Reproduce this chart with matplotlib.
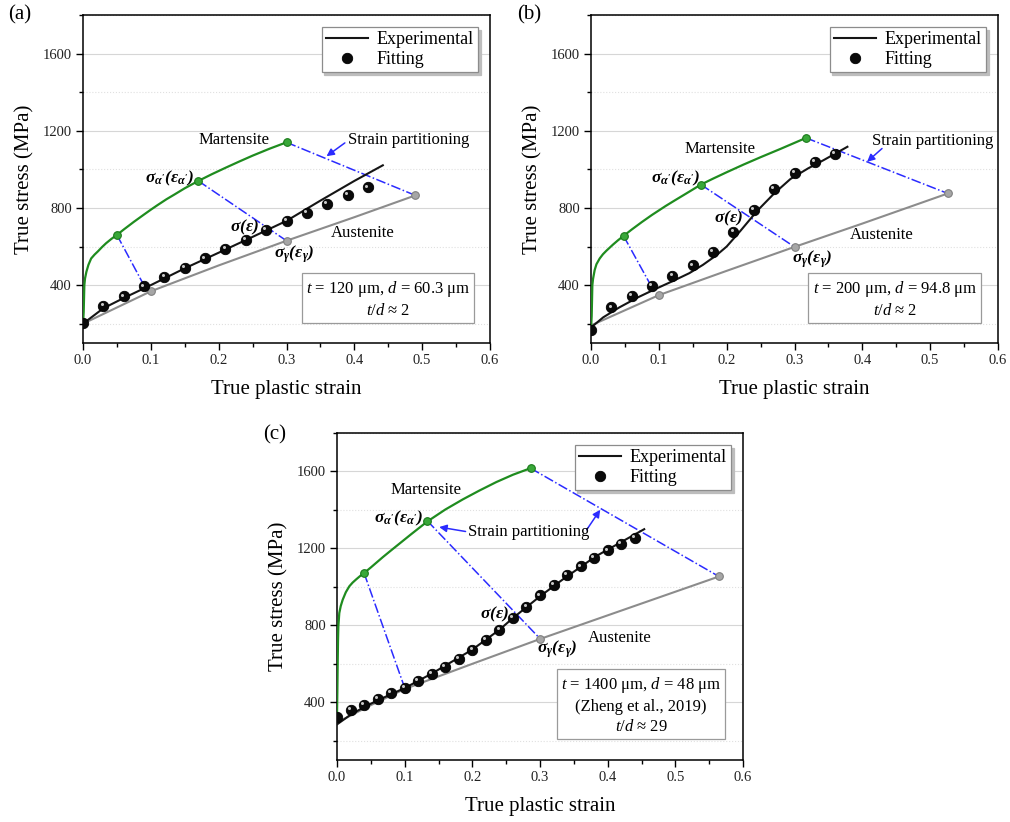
import matplotlib

matplotlib.use("Agg")
import matplotlib.pyplot as plt
from matplotlib.ticker import MultipleLocator
from matplotlib.transforms import offset_copy

# ---- panel (a): t = 120 um, d = 60.3 um
A_MART_EPS = [0, 0.001, 0.0015, 0.002, 0.003, 0.005, 0.008, 0.012, 0.017, 0.022, 0.028, 0.034, 0.042, 0.05,
              0.06, 0.075, 0.09, 0.1, 0.11, 0.123, 0.135, 0.15, 0.17, 0.19, 0.21, 0.23, 0.25, 0.275, 0.3]
A_MART_SIG = [200, 260, 330, 400, 435, 469, 505, 538, 558, 575, 597, 617, 640, 660,
              688, 728, 766, 791, 815, 845, 870, 902, 940, 975, 1008, 1040, 1071, 1107, 1140]
A_MART_PTS = ([0.05, 0.17, 0.30], [660, 940, 1140])
A_AUST_EPS = [0, 0.1, 0.2, 0.3, 0.4, 0.49]
A_AUST_SIG = [200, 368, 502, 630, 752, 865]
A_AUST_PTS = ([0.1, 0.3, 0.49], [368, 630, 865])
A_EXP_EPS = [0, 0.03, 0.06, 0.1, 0.15, 0.2, 0.25, 0.3, 0.35, 0.4, 0.442]
A_EXP_SIG = [200, 280, 333, 400, 487, 568, 650, 733, 838, 940, 1021]
A_FIT_EPS = [0, 0.03, 0.06, 0.09, 0.12, 0.15, 0.18, 0.21, 0.24, 0.27, 0.30, 0.33, 0.36, 0.39, 0.42]
A_FIT_SIG = [205, 291, 342, 393, 443, 490, 538, 588, 636, 685, 731, 776, 823, 866, 906]
A_LINKS = [((0.05, 0.09), (660, 398)), ((0.17, 0.30), (940, 630)), ((0.30, 0.49), (1140, 865))]

# ---- panel (b): t = 200 um, d = 94.8 um
B_MART_EPS = [0, 0.001, 0.0015, 0.002, 0.003, 0.0054, 0.008, 0.0128, 0.0176, 0.0226, 0.0324, 0.04, 0.048,
              0.06, 0.075, 0.09, 0.1, 0.11, 0.123, 0.14, 0.162, 0.18, 0.2, 0.225, 0.25, 0.28, 0.317]
B_MART_SIG = [170, 240, 320, 400, 432, 478, 508, 538, 560, 578, 610, 633, 655,
              688, 727, 764, 787, 810, 838, 874, 921, 952, 985, 1025, 1063, 1107, 1163]
B_MART_PTS = ([0.048, 0.162, 0.317], [655, 921, 1163])
B_AUST_EPS = [0, 0.1, 0.2, 0.3, 0.4, 0.526]
B_AUST_SIG = [191, 348, 474, 598, 719, 875]
B_AUST_PTS = ([0.1, 0.3, 0.526], [348, 598, 875])
B_EXP_EPS = [0, 0.018, 0.042, 0.07, 0.095, 0.12, 0.145, 0.165, 0.185, 0.2, 0.22, 0.245, 0.27, 0.294, 0.32,
             0.343, 0.378]
B_EXP_SIG = [180, 233, 285, 338, 380, 420, 462, 505, 555, 600, 680, 785, 875, 950, 1005, 1048, 1117]
B_FIT_EPS = [0, 0.03, 0.06, 0.09, 0.12, 0.15, 0.18, 0.21, 0.24, 0.27, 0.30, 0.33, 0.36]
B_FIT_SIG = [167, 284, 343, 395, 447, 502, 574, 674, 790, 899, 980, 1037, 1082]
B_LINKS = [((0.048, 0.088), (655, 400)), ((0.162, 0.30), (921, 598)), ((0.317, 0.526), (1163, 875))]

# ---- panel (c): t = 1400 um, d = 48 um (Zheng et al., 2019)
C_MART_EPS = [0, 0.0005, 0.001, 0.0015, 0.002, 0.0034, 0.0055, 0.0084, 0.013, 0.0182, 0.023, 0.028, 0.034,
              0.04, 0.05, 0.0675, 0.08, 0.092, 0.11, 0.1335, 0.16, 0.186, 0.21, 0.2355, 0.26, 0.286]
C_MART_SIG = [330, 450, 600, 720, 795, 864, 900, 933, 972, 1003, 1022, 1038, 1056,
              1072, 1101, 1154, 1190, 1224, 1275, 1340, 1402, 1455, 1500, 1545, 1583, 1617]
C_MART_PTS = ([0.04, 0.1335, 0.286], [1072, 1343, 1617])
C_AUST_EPS = [0, 0.05, 0.1, 0.2, 0.3, 0.4, 0.5645]
C_AUST_SIG = [295, 385, 469, 600, 729, 852, 1054]
C_AUST_PTS = ([0.1, 0.3005, 0.5645], [469, 729, 1054])
C_EXP_EPS = [0, 0.02, 0.04, 0.06, 0.1, 0.14, 0.2, 0.24, 0.26, 0.3, 0.333, 0.382, 0.454]
C_EXP_SIG = [285, 335, 375, 410, 474, 549, 674, 777, 838, 951, 1037, 1158, 1300]
C_FIT_EPS = [0, 0.02, 0.04, 0.06, 0.08, 0.10, 0.12, 0.14, 0.16, 0.18, 0.20, 0.22, 0.24, 0.26,
             0.28, 0.30, 0.32, 0.34, 0.36, 0.38, 0.40, 0.42, 0.44]
C_FIT_SIG = [322, 360, 388, 417, 448, 474, 513, 547, 585, 625, 674, 724, 777, 838,
             897, 956, 1009, 1061, 1106, 1151, 1190, 1224, 1253]
C_LINKS = [((0.04, 0.099), (1072, 485)), ((0.1335, 0.3005), (1343, 729)), ((0.286, 0.5645), (1617, 1054))]

INFO = (
    "$t$ = 120 μm, $d$ = 60.3 μm\n$t/d$ ≈ 2",
    "$t$ = 200 μm, $d$ = 94.8 μm\n$t/d$ ≈ 2",
    "$t$ = 1400 μm, $d$ = 48 μm\n(Zheng et al., 2019)\n$t/d$ ≈ 29",
)

GREEN = "#1f8c1f"
GRAY = "#8c8c8c"
BLUE = "#2b2bff"
INK = "#151515"

SIG_A = r"$\mathbf{\sigma_{\alpha'}(\varepsilon_{\alpha'})}$"
SIG_G = r"$\mathbf{\sigma_{\gamma}(\varepsilon_{\gamma})}$"
SIG = r"$\mathbf{\sigma(\varepsilon)}$"

plt.rcParams.update(
    {
        "font.family": ["Liberation Serif", "DejaVu Serif"],
        "mathtext.fontset": "custom",
        "mathtext.rm": "Liberation Serif",
        "mathtext.it": "Liberation Serif:italic",
        "mathtext.bf": "Liberation Serif:bold:italic",
        "axes.linewidth": 1.1,
    }
)


def style_axis(ax):
    ax.set_xlim(0, 0.6)
    ax.set_ylim(100, 1800)
    ax.xaxis.set_major_locator(MultipleLocator(0.1))
    ax.xaxis.set_minor_locator(MultipleLocator(0.05))
    ax.set_yticks([400, 800, 1200, 1600])
    ax.yaxis.set_minor_locator(MultipleLocator(200))
    ax.xaxis.set_major_formatter(plt.FuncFormatter(lambda v, _: f"{v:.1f}"))
    ax.grid(axis="y", which="major", color="#d6d6d6", linewidth=0.8)
    ax.grid(axis="y", which="minor", color="#e0e0e0", linewidth=0.8, linestyle=":")
    ax.set_axisbelow(True)
    ax.tick_params(which="major", direction="out", length=5, width=1, labelsize=10.5, pad=3,
                   labelcolor="#222222")
    ax.tick_params(which="minor", direction="out", length=3, width=1)
    ax.set_xlabel("True plastic strain", fontsize=15, labelpad=9)
    ax.set_ylabel("True stress (MPa)", fontsize=15, labelpad=6)


def draw_panel(fig, ax, mart, mart_pts, aust, aust_pts, exp, fit, links):
    ax.plot(*aust, color=GRAY, lw=1.5, zorder=3)
    ax.plot(*mart, color=GREEN, lw=1.6, zorder=3)
    ax.plot(*exp, color=INK, lw=1.5, zorder=4, label="Experimental")
    for xs, ys in links:
        ax.plot(xs, ys, color=BLUE, lw=1.1, ls="-.", zorder=3)
    ax.plot(*mart_pts, ls="none", marker="o", ms=5.5, mfc="#39a839", mec="#1a7a1a", mew=0.8, zorder=5)
    ax.plot(*aust_pts, ls="none", marker="o", ms=5.5, mfc="#a6a6a6", mec="#808080", mew=0.8, zorder=5)
    ax.plot(*fit, ls="none", marker="o", ms=7.5, mfc="#0a0a0a", mec="#000000", mew=0.6, zorder=6, label="Fitting")
    shine = offset_copy(ax.transData, fig=fig, x=-1.3, y=1.3, units="points")
    ax.plot(*fit, ls="none", marker="o", ms=2.2, mfc="#c8c8c8", mec="none", transform=shine, zorder=7)
    leg = ax.legend(
        loc="upper right",
        fontsize=13,
        handlelength=2.3,
        handletextpad=0.5,
        borderpad=0.25,
        labelspacing=0.15,
        borderaxespad=0.65,
        fancybox=False,
        edgecolor="#8c8c8c",
        shadow={"color": "#bdbdbd", "alpha": 1.0},
        framealpha=1,
    )
    leg.get_frame().set_linewidth(0.9)
    style_axis(ax)


def arrow(ax, head, tail):
    ax.annotate(
        "",
        xy=head,
        xytext=tail,
        arrowprops=dict(arrowstyle="-|>", color=BLUE, lw=1.1, mutation_scale=11, shrinkA=0, shrinkB=0),
        zorder=6,
    )


fig = plt.figure(figsize=(10.1, 8.22), dpi=100, facecolor="white")
W, H = 1010, 822
ax_a = fig.add_axes([83 / W, 1 - 343 / H, 407 / W, 328 / H])
ax_b = fig.add_axes([591 / W, 1 - 343 / H, 407 / W, 328 / H])
ax_c = fig.add_axes([337 / W, 1 - 760 / H, 406 / W, 327 / H])

draw_panel(fig, ax_a, (A_MART_EPS, A_MART_SIG), A_MART_PTS, (A_AUST_EPS, A_AUST_SIG), A_AUST_PTS,
           (A_EXP_EPS, A_EXP_SIG), (A_FIT_EPS, A_FIT_SIG), A_LINKS)
draw_panel(fig, ax_b, (B_MART_EPS, B_MART_SIG), B_MART_PTS, (B_AUST_EPS, B_AUST_SIG), B_AUST_PTS,
           (B_EXP_EPS, B_EXP_SIG), (B_FIT_EPS, B_FIT_SIG), B_LINKS)
draw_panel(fig, ax_c, (C_MART_EPS, C_MART_SIG), C_MART_PTS, (C_AUST_EPS, C_AUST_SIG), C_AUST_PTS,
           (C_EXP_EPS, C_EXP_SIG), (C_FIT_EPS, C_FIT_SIG), C_LINKS)

# text labels, positions in data units
labels = {
    ax_a: dict(mart=(0.171, 1154), aust=(0.365, 671), sig=(0.216, 697), siga=(0.092, 952),
               sigg=(0.282, 559), part=(0.391, 1151), info=(0.4495, 327)),
    ax_b: dict(mart=(0.1376, 1108), aust=(0.382, 659), sig=(0.182, 745), siga=(0.0885, 952),
               sigg=(0.296, 536), part=(0.414, 1148), info=(0.448, 327)),
    ax_c: dict(mart=(0.0788, 1505), aust=(0.371, 734), sig=(0.211, 859), siga=(0.0547, 1357),
               sigg=(0.2956, 677), part=(0.1936, 1283), info=(0.4495, 386)),
}
for ax, info in zip((ax_a, ax_b, ax_c), INFO):
    pos = labels[ax]
    ax.text(*pos["mart"], "Martensite", fontsize=12, va="center", zorder=8)
    ax.text(*pos["aust"], "Austenite", fontsize=12, va="center", zorder=8)
    ax.text(*pos["sig"], SIG, fontsize=12.5, va="center", zorder=8)
    ax.text(*pos["siga"], SIG_A, fontsize=12.5, va="center", zorder=8)
    ax.text(*pos["sigg"], SIG_G, fontsize=12.5, va="center", zorder=8)
    ax.text(*pos["part"], "Strain partitioning", fontsize=12, va="center", zorder=8, clip_on=False)
    ax.text(
        *pos["info"], info, fontsize=12, ha="center", va="center", multialignment="center",
        linespacing=1.3, zorder=8,
        bbox=dict(boxstyle="square,pad=0.25", fc="white", ec="#9a9a9a", lw=0.9),
    )

arrow(ax_a, (0.359, 1068), (0.386, 1137))
arrow(ax_b, (0.407, 1039), (0.429, 1108))
arrow(ax_c, (0.151, 1311), (0.19, 1288))
arrow(ax_c, (0.389, 1401), (0.369, 1297))

fig.text(8 / W, 1 - 15 / H, "(a)", fontsize=15, va="center")
fig.text(517 / W, 1 - 15 / H, "(b)", fontsize=15, va="center")
fig.text(263 / W, 1 - 435 / H, "(c)", fontsize=15, va="center")

fig.savefig("out.png", dpi=100, facecolor="white")
